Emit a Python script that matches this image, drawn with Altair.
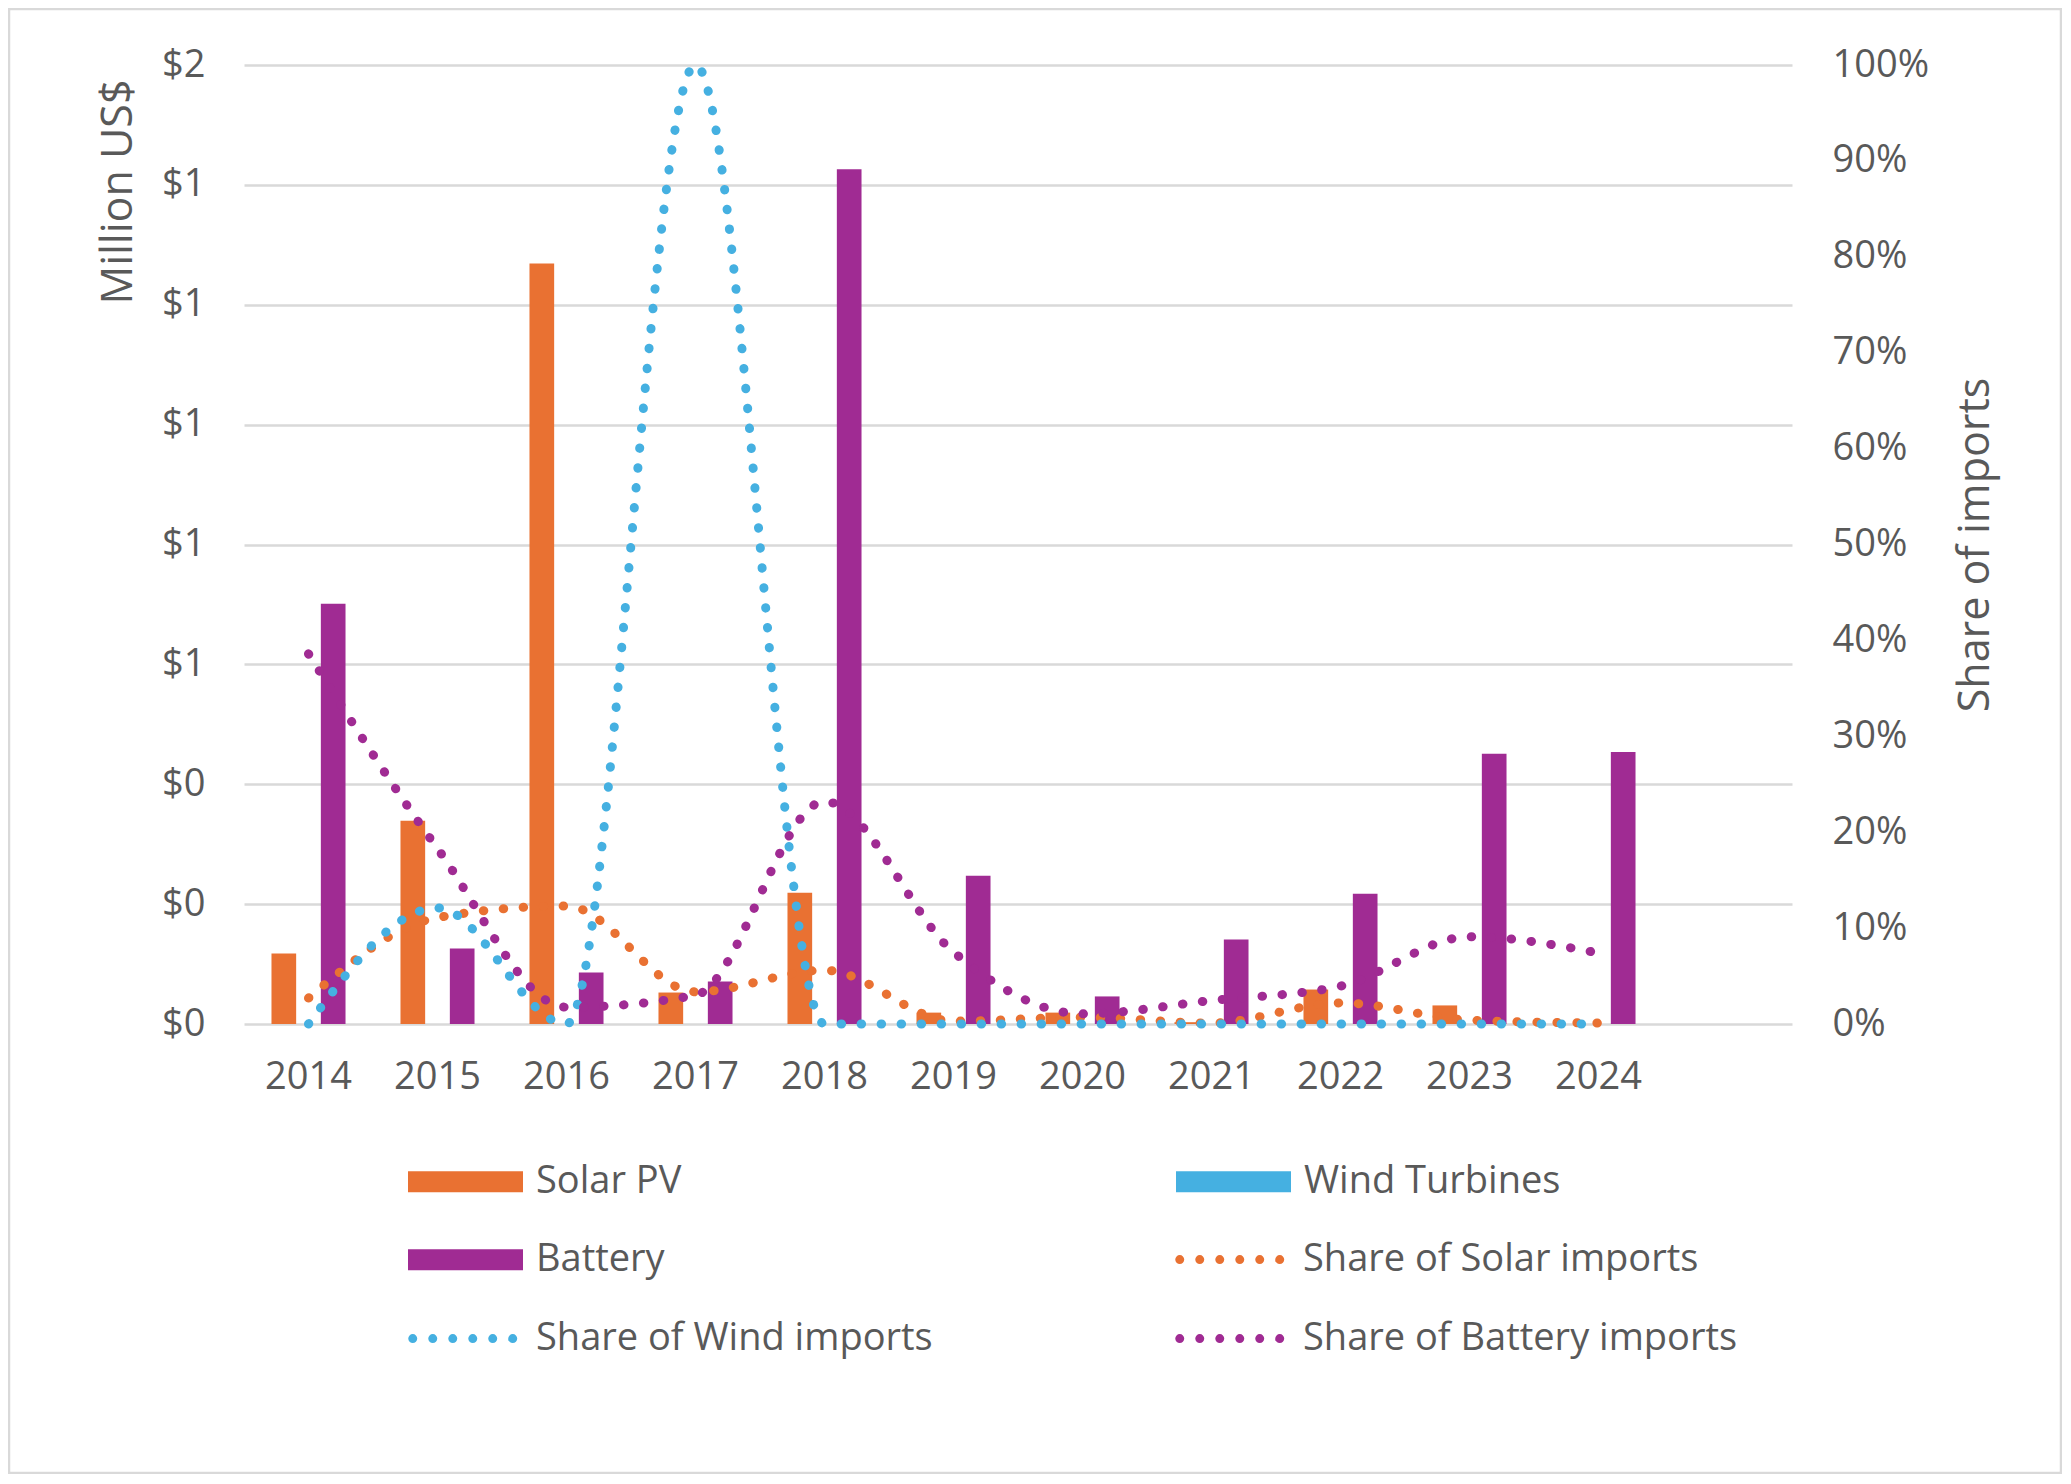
import altair as alt
import pandas as pd

# ---------------- data ----------------
years = ["2014", "2015", "2016", "2017", "2018", "2019", "2020", "2021", "2022", "2023", "2024"]
x_categories = years + [""]          # Excel axis keeps one empty slot at the right

solar_pv = [0.1175, 0.339, 1.269, 0.0525, 0.219, 0.019, 0.019, 0.003, 0.0575, 0.031, 0.0]
wind_turbines = [0.0, 0.0, 0.0, 0.0, 0.0, 0.0, 0.0, 0.0, 0.0, 0.0, 0.0]
battery = [0.701, 0.126, 0.086, 0.071, 1.426, 0.2475, 0.046, 0.141, 0.2175, 0.451, 0.454]

share_solar = [0.027, 0.111, 0.123, 0.0335, 0.056, 0.003, 0.007, 0.001, 0.022, 0.004, 0.001]
share_wind = [0.0, 0.121, 0.0, 1.0, 0.0, 0.0, 0.0, 0.0, 0.0, 0.0, 0.0]
share_battery = [0.386, 0.183, 0.0175, 0.030, 0.232, 0.075, 0.0106, 0.0245, 0.0395, 0.091, 0.074]

bar_series = ["Solar PV", "Wind Turbines", "Battery"]
bar_colors = ["#E97132", "#45B0E1", "#A02B93"]
line_series = ["Share of Solar imports", "Share of Wind imports", "Share of Battery imports"]
line_colors = ["#E97132", "#45B0E1", "#A02B93"]

left_ticks = [0, 0.2, 0.4, 0.6, 0.8, 1.0, 1.2, 1.4, 1.6]
right_ticks = [0, 0.1, 0.2, 0.3, 0.4, 0.5, 0.6, 0.7, 0.8, 0.9, 1.0]

# ---------------- tables ----------------
bars_df = pd.DataFrame({
    "year": years * 3,
    "series": sum([[s] * len(years) for s in bar_series], []),
    "value": solar_pv + wind_turbines + battery,
})
lines_df = pd.DataFrame({
    "year": years * 3,
    "series": sum([[s] * len(years) for s in line_series], []),
    "share": share_solar + share_wind + share_battery,
})

# ---------------- styling ----------------
FONT = "Open Sans"
TXT = "#595959"
GRID = "#D9D9D9"
LABEL_SIZE = 38
TITLE_SIZE = 43

W, H = 1548, 959
PAD = {"left": 236, "top": 57, "right": 270, "bottom": 450}

# legend symbols (unit square -1..1 scaled by sqrt(size)/2)
RECT_PATH = "M-1,-0.183H1V0.183H-1Z"
_dots = []
for cx in [-0.961, -0.613, -0.265, 0.083, 0.430, 0.778]:
    r = 0.039
    _dots.append(f"M{cx - r:.3f},0A{r},{r} 0 1,0 {cx + r:.3f},0A{r},{r} 0 1,0 {cx - r:.3f},0Z")
DOTS_PATH = "".join(_dots)

LEG_X = 164
LEG_Y = 1059
ROW_STEP = 76.6

bar_legend = alt.Legend(
    title=None, orient="none", legendX=LEG_X, legendY=LEG_Y, columns=2, padding=0,
    direction="horizontal",
    symbolType=RECT_PATH, symbolSize=13225, symbolStrokeWidth=0,
    labelOffset=13, columnPadding=494, rowPadding=1.3,
    labelFont=FONT, labelFontSize=LABEL_SIZE, labelColor=TXT, labelLimit=0,
)
line_legend = alt.Legend(
    title=None, orient="none", legendX=LEG_X, legendY=LEG_Y + ROW_STEP - 1, columns=2, padding=0,
    direction="horizontal",
    symbolType=DOTS_PATH, symbolSize=13225, symbolStrokeWidth=4.5,
    labelOffset=8, columnPadding=235, rowPadding=-5,
    labelFont=FONT, labelFontSize=LABEL_SIZE, labelColor=TXT, labelLimit=0,
)

x_enc = alt.X(
    "year:N",
    scale=alt.Scale(domain=x_categories, paddingInner=0.426, paddingOuter=0.213),
    sort=x_categories,
    axis=alt.Axis(
        title=None, labelAngle=0, ticks=False, domain=False, grid=False,
        labelFont=FONT, labelFontSize=LABEL_SIZE, labelColor=TXT, labelPadding=34,
    ),
)

bars = alt.Chart(bars_df).mark_bar().encode(
    x=x_enc,
    xOffset=alt.XOffset("series:N", scale=alt.Scale(domain=bar_series, paddingInner=0, paddingOuter=0)),
    y=alt.Y(
        "value:Q",
        scale=alt.Scale(domain=[0, 1.6], nice=False, zero=True),
        axis=alt.Axis(
            orient="left", values=left_ticks, format="$.0f", title="Million US$",
            ticks=False, domain=False, grid=True, gridColor=GRID, gridWidth=2.6,
            labelFont=FONT, labelFontSize=LABEL_SIZE, labelColor=TXT, labelPadding=39,
            titleFont=FONT, titleFontSize=TITLE_SIZE, titleFontWeight="normal", titleColor=TXT,
            titleAnchor="end", titleY=14, titlePadding=21,
        ),
    ),
    fill=alt.Fill("series:N", scale=alt.Scale(domain=bar_series, range=bar_colors), legend=bar_legend),
)

lines = alt.Chart(lines_df).mark_line(
    interpolate="monotone", strokeWidth=9, strokeDash=[0.5, 19.5], strokeCap="round"
).encode(
    x=x_enc,
    y=alt.Y(
        "share:Q",
        scale=alt.Scale(domain=[0, 1], nice=False, zero=True),
        axis=alt.Axis(
            orient="right", values=right_ticks, format=".0%", title="Share of imports",
            ticks=False, domain=False, grid=False,
            labelFont=FONT, labelFontSize=LABEL_SIZE, labelColor=TXT, labelPadding=40,
            titleFont=FONT, titleFontSize=TITLE_SIZE, titleFontWeight="normal", titleColor=TXT,
            titleAngle=270, titleBaseline="top", titlePadding=26,
        ),
    ),
    stroke=alt.Stroke(
        "series:N",
        scale=alt.Scale(domain=[" "] + line_series, range=["rgba(0,0,0,0)"] + line_colors),
        legend=line_legend,
    ),
    detail="series:N",
)

frame = alt.Chart(pd.DataFrame({"frame": [0]})).mark_rect(
    fill=None, stroke=GRID, strokeWidth=2.5
).encode(
    x=alt.value(-235), x2=alt.value(1817), y=alt.value(-56), y2=alt.value(1408)
)

chart = alt.layer(frame, bars, lines).resolve_scale(y="independent").properties(
    width=W, height=H,
    autosize=alt.AutoSizeParams(type="none"),
    padding=PAD,
    background="white",
).configure_view(stroke=None)

chart.save("out.html", embed_options={"renderer": "svg", "actions": False})
